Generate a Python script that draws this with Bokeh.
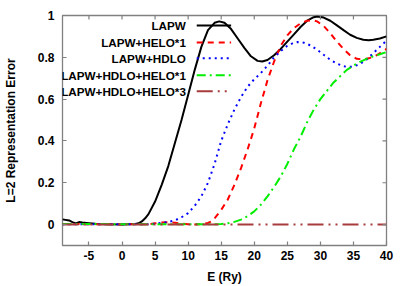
import numpy as np
from bokeh.plotting import figure
from bokeh.models import FixedTicker, Range1d, Label
from bokeh.embed import file_html
from bokeh.resources import INLINE

# ---- data ----
lapw_x = [-9, -8, -7.5, -7, -6.5, -6, -5, -4, -2, 0, 2, 2.5, 3, 3.5, 4, 5, 6, 7, 8, 9, 10, 11, 12, 13, 14, 14.7,
          15.5, 16.5, 17.5, 18.5, 19.5, 20.5, 21.2, 22, 23, 24, 25, 26, 27, 28, 29, 29.5, 30.5, 31.5, 32.5, 33.5,
          34.5, 35.5, 36.5, 37.3, 38, 39, 40]
lapw_y = [0.025, 0.02, 0.012, 0.006, 0.012, 0.01, 0.007, 0.004, 0.002, 0.001, 0.003, 0.006, 0.015, 0.03, 0.05,
          0.11, 0.19, 0.28, 0.39, 0.5, 0.62, 0.74, 0.85, 0.93, 0.965, 0.972, 0.965, 0.935, 0.89, 0.845, 0.805,
          0.783, 0.78, 0.787, 0.81, 0.84, 0.875, 0.91, 0.945, 0.975, 0.992, 0.995, 0.99, 0.975, 0.953, 0.93,
          0.908, 0.893, 0.884, 0.882, 0.884, 0.89, 0.9]

helo1_x = [-9, -5, 0, 4, 5, 6, 7, 8, 9, 10, 11, 12, 13, 13.5, 14, 15, 16, 17, 18, 19, 20, 21, 22, 23, 24, 25, 26,
           27, 28, 28.8, 29.5, 30.5, 31.5, 32.5, 33.5, 34.5, 35.5, 36.5, 37.5, 38.5, 39.5, 40]
helo1_y = [0.003, 0.002, 0.001, 0.002, 0.006, 0.01, 0.011, 0.009, 0.005, 0.002, 0.001, 0.002, 0.008, 0.015, 0.03,
           0.07, 0.12, 0.19, 0.27, 0.36, 0.46, 0.58, 0.69, 0.78, 0.855, 0.905, 0.94, 0.962, 0.975, 0.978, 0.972,
           0.95, 0.915, 0.875, 0.84, 0.81, 0.793, 0.79, 0.797, 0.81, 0.83, 0.84]

hdlo_x = [-9, -5, 0, 4, 5, 6, 7, 8, 9, 10, 11, 12, 13, 14, 15, 16, 17, 18, 19, 20, 21, 22, 23, 24, 25, 26, 26.5,
          27.5, 28.5, 29.5, 30.5, 31.5, 32.5, 33.5, 34.2, 35, 36, 37, 38, 39, 40]
hdlo_y = [0.002, 0.002, 0.001, 0.002, 0.004, 0.008, 0.012, 0.02, 0.035, 0.055, 0.09, 0.135, 0.2, 0.29, 0.4, 0.48,
          0.55, 0.61, 0.66, 0.695, 0.725, 0.76, 0.8, 0.83, 0.855, 0.87, 0.873, 0.87, 0.857, 0.837, 0.812, 0.788,
          0.77, 0.757, 0.754, 0.756, 0.768, 0.79, 0.82, 0.85, 0.88]

hdlo_helo1_x = [-9, 0, 10, 14, 15, 16, 17, 18, 19, 20, 21, 22, 23, 24, 25, 26, 27, 28, 29, 30, 31, 32, 33, 34, 35,
                36, 37, 38, 39, 40]
hdlo_helo1_y = [0.003, 0.002, 0.002, 0.002, 0.003, 0.006, 0.013, 0.024, 0.04, 0.063, 0.095, 0.135, 0.18, 0.23,
                0.29, 0.36, 0.42, 0.49, 0.55, 0.6, 0.64, 0.68, 0.71, 0.74, 0.76, 0.778, 0.793, 0.805, 0.815, 0.825]

hdlo_helo3_x = [-9, 0, 10, 20, 30, 40]
hdlo_helo3_y = [0, 0, 0, 0, 0, 0]

series_names = ["LAPW", "LAPW+HELO*1", "LAPW+HDLO", "LAPW+HDLO+HELO*1", "LAPW+HDLO+HELO*3"]
x_ticks = [-5, 0, 5, 10, 15, 20, 25, 30, 35, 40]
x_tick_labels = ["-5", "0", "5", "10", "15", "20", "25", "30", "35", "40"]
y_ticks = [0, 0.2, 0.4, 0.6, 0.8, 1.0]
y_tick_labels = ["0", "0.2", "0.4", "0.6", "0.8", "1"]
x_min, x_max, y_min, y_max = -9, 40, -0.1, 1.0

FONT = "Liberation Sans"
GRAY = "#808080"

p = figure(width=409, height=286, output_backend="svg", toolbar_location=None,
           x_range=Range1d(x_min, x_max), y_range=Range1d(y_min, y_max),
           min_border_left=61, min_border_right=23, min_border_top=15, min_border_bottom=40,
           x_axis_label="E (Ry)", y_axis_label="L=2 Representation Error")
p.xgrid.visible = False
p.ygrid.visible = False
p.outline_line_color = GRAY
p.outline_line_width = 1.3
p.background_fill_color = "white"
p.border_fill_color = "white"

for ax in (p.xaxis[0], p.yaxis[0]):
    ax.axis_line_color = None
    ax.major_tick_in = 4
    ax.major_tick_out = 0
    ax.minor_tick_line_color = None
    ax.major_tick_line_color = GRAY
    ax.major_tick_line_width = 1.2
    ax.major_label_text_font = FONT
    ax.major_label_text_font_style = "bold"
    ax.major_label_text_font_size = "12px"
    ax.major_label_text_color = "black"
    ax.axis_label_text_font = FONT
    ax.axis_label_text_font_style = "bold"
    ax.axis_label_text_font_size = "12px"
    ax.axis_label_text_color = "black"

p.xaxis[0].ticker = FixedTicker(ticks=x_ticks)
p.xaxis[0].major_label_overrides = {t: l for t, l in zip(x_ticks, x_tick_labels)}
p.xaxis[0].major_label_standoff = 5
p.xaxis[0].axis_label_standoff = 7
p.yaxis[0].ticker = FixedTicker(ticks=y_ticks)
p.yaxis[0].major_label_overrides = {t: l for t, l in zip(y_ticks, y_tick_labels)}
p.yaxis[0].major_label_standoff = 8
p.yaxis[0].axis_label_standoff = 17

xs = [lapw_x, helo1_x, hdlo_x, hdlo_helo1_x, hdlo_helo3_x]
ys = [lapw_y, helo1_y, hdlo_y, hdlo_helo1_y, hdlo_helo3_y]
colors = ["black", "#ff0000", "#0000ff", "#00ee00", "#a83c3c"]
dashes = ["solid", "6 5", "2 4", "9 4 2 4", "16 5 2 5 2 5"]

for x, y, c, d in zip(xs, ys, colors, dashes):
    p.line(x, y, line_color=c, line_width=2, line_dash=d)

# mirrored inward ticks on top and right (markers clipped by the frame -> 4px inside)
p.scatter(x=x_ticks, y=[y_max] * len(x_ticks), marker="dash", size=8, angle=np.pi / 2,
          line_color=GRAY, line_width=1.2)
p.scatter(x=[x_max] * len(y_ticks), y=y_ticks, marker="dash", size=8,
          line_color=GRAY, line_width=1.2)

# manual gnuplot-style legend: right-aligned labels, samples to the right
leg_text_x = 9.66
leg_x0, leg_x1 = 11.3, 16.5
leg_rows = [0.952, 0.871, 0.795, 0.714, 0.638]
for name, c, d, ry in zip(series_names, colors, dashes, leg_rows):
    p.add_layout(Label(x=leg_text_x, y=ry, text=name, text_align="right", text_baseline="middle",
                       text_font=FONT, text_font_style="bold", text_font_size="11.7px", text_color="black"))
    p.segment(x0=[leg_x0], y0=[ry], x1=[leg_x1], y1=[ry], line_color=c, line_width=2, line_dash=d)

open("out.html", "w").write(file_html(p, INLINE))
